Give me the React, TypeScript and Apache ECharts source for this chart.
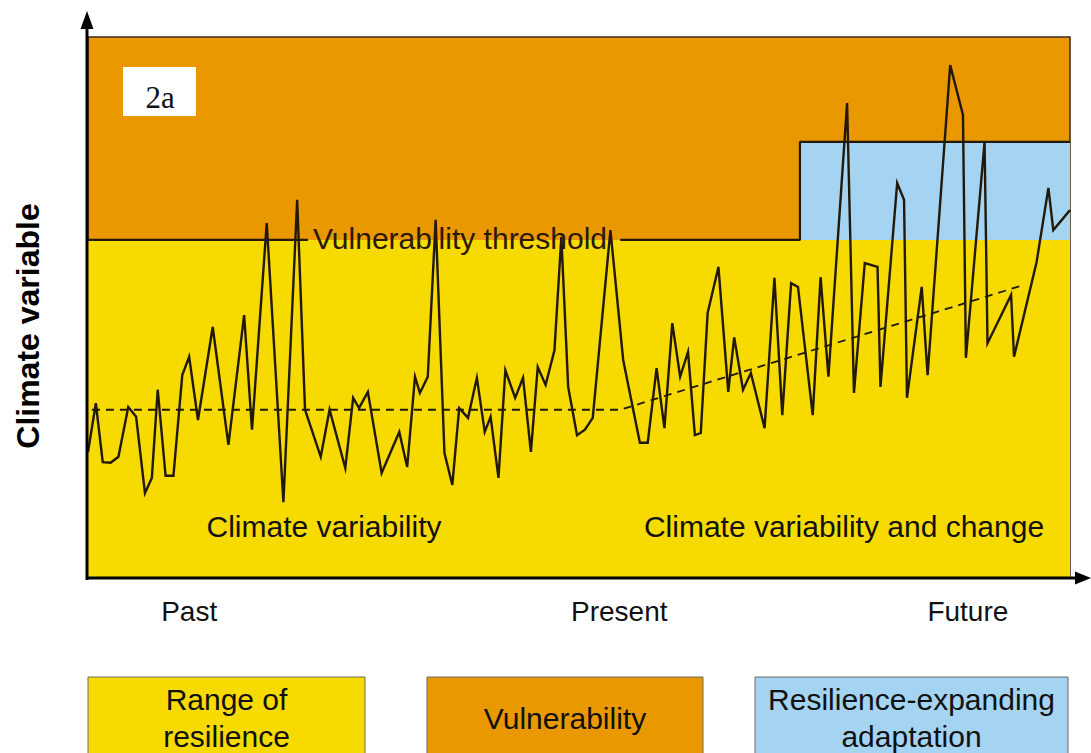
import React, { useEffect, useRef } from "react";
import * as echarts from "echarts";

// Time position (0 = left edge of the plot, 100 = right edge)
const timeX = [
  0, 0.8, 1.5, 2.3, 3.1, 4.1, 4.9, 5.8, 6.5, 7.1, 7.9, 8.7, 9.6, 10.3, 11.2, 12.7, 14.3, 15.9, 16.7, 18.2,
  19.9, 21.3, 22.1, 23.7, 24.6, 26.2, 27.0, 27.6, 28.5, 29.9, 31.7, 32.5, 33.3, 33.8, 34.6, 35.4, 36.3, 37.1, 37.8, 38.7,
  39.6, 40.4, 41.0, 41.8, 42.5, 43.5, 44.3, 45.1, 45.8, 46.6, 47.5, 48.2, 48.9, 49.8, 50.6, 51.4, 53.2, 54.5, 56.2, 57.0,
  57.9, 58.7, 59.5, 60.3, 61.1, 61.8, 62.4, 63.1, 64.2, 65.2, 65.8, 66.7, 67.5, 68.9, 69.9, 70.7, 71.6, 72.3, 73.8, 74.6,
  75.4, 77.3, 78.0, 79.1, 80.4, 80.7, 82.4, 83.1, 83.4, 84.9, 85.5, 87.8, 89.1, 89.4, 91.3, 91.6, 94.0, 94.3, 96.6, 97.8,
  98.3, 100,
];
// Climate variable (0 = x axis, 100 = top of the plot)
const climateY = [
  23.3, 32.3, 21.4, 21.3, 22.4, 31.6, 29.8, 15.7, 18.5, 34.8, 18.9, 18.9, 37.5, 40.9, 29.2, 46.4, 24.6, 48.6, 27.4, 65.6,
  14.0, 69.9, 31.1, 22.4, 31.1, 20.3, 33.3, 31.4, 34.4, 19.4, 27.0, 20.5, 37.2, 34.2, 37.2, 66.2, 23.1, 17.2, 31.4, 29.6,
  37.0, 27.0, 29.8, 18.5, 38.4, 33.3, 37.0, 23.3, 39.0, 35.7, 42.1, 63.0, 35.3, 26.4, 27.4, 29.6, 64.3, 40.3, 25.0, 25.0,
  38.8, 27.7, 47.1, 37.2, 41.8, 26.4, 26.8, 49.0, 57.5, 34.4, 44.5, 34.8, 37.9, 27.7, 55.5, 30.1, 54.5, 53.8, 30.1, 55.6,
  37.2, 87.8, 34.2, 58.2, 57.5, 35.3, 73.0, 69.9, 33.3, 53.8, 37.5, 94.8, 85.6, 40.7, 80.6, 43.4, 52.3, 40.9, 58.4, 72.1,
  64.3, 68.0,
];
// Dashed trend line: flat mean in the past, rising mean afterwards
const trendX = [0.4, 54.2, 95.0];
const trendY = [31.1, 31.1, 54.0];

const vulnerabilityThreshold = 62.5;
const adaptedThreshold = 80.6;
const adaptationStart = 72.5;
const thresholdGapStart = 22.4;
const thresholdGapEnd = 54.2;

const timeLabels = ["Past", "Present", "Future"];
const timeLabelPos = [10.3, 54.1, 89.6];
const legendLabels = ["Range of\nresilience", "Vulnerability", "Resilience-expanding\nadaptation"];

const ORANGE = "#EA9800";
const YELLOW = "#F6DA00";
const BLUE = "#A4D4F2";
const INK = "#22190a";

const GRID = { left: 88, top: 37, right: 21, bottom: 175 };
const W = 1091;
const H = 753;

export default function App() {
  const ref = useRef<HTMLDivElement>(null);
  useEffect(() => {
    if (!ref.current) return;
    const chart = echarts.init(ref.current, undefined, { renderer: "svg" });
    const plotW = W - GRID.left - GRID.right;
    const px = (v: number) => GRID.left + (v / 100) * plotW;
    const font = "'Liberation Sans', Arial, sans-serif";

    const legendBoxes = [
      { x: 88, w: 277, color: YELLOW },
      { x: 427, w: 276, color: ORANGE },
      { x: 755, w: 313, color: BLUE },
    ];

    const graphics: any[] = [
      // y axis
      { type: "line", z: 100, shape: { x1: 87, y1: 580, x2: 87, y2: 26 }, style: { stroke: "#000", lineWidth: 3 } },
      { type: "polygon", z: 100, shape: { points: [[87, 11], [80.5, 29], [93.5, 29]] }, style: { fill: "#000" } },
      // x axis
      { type: "line", z: 100, shape: { x1: 86, y1: 578, x2: 1077, y2: 578 }, style: { stroke: "#000", lineWidth: 3 } },
      { type: "polygon", z: 100, shape: { points: [[1091, 578], [1075, 571.5], [1075, 584.5]] }, style: { fill: "#000" } },
      // y-axis title
      {
        type: "text", z: 100, x: 28, y: 326, rotation: Math.PI / 2,
        style: { text: "Climate variable", font: `bold 32px ${font}`, fill: "#000", align: "center", verticalAlign: "middle" },
      },
      // 2a label box
      { type: "rect", z: 100, shape: { x: 123, y: 67, width: 73, height: 49 }, style: { fill: "#fff" } },
      {
        type: "text", z: 101, x: 160, y: 97,
        style: { text: "2a", font: `31px 'Liberation Serif', 'DejaVu Serif', serif`, fill: "#111", align: "center", verticalAlign: "middle" },
      },
      // threshold label
      {
        type: "text", z: 100, x: 460, y: 238,
        style: { text: "Vulnerability threshold", font: `30px ${font}`, fill: "#2b1808", align: "center", verticalAlign: "middle" },
      },
      {
        type: "text", z: 100, x: 324, y: 526,
        style: { text: "Climate variability", font: `30px ${font}`, fill: "#111", align: "center", verticalAlign: "middle" },
      },
      {
        type: "text", z: 100, x: 844, y: 526,
        style: { text: "Climate variability and change", font: `30px ${font}`, fill: "#111", align: "center", verticalAlign: "middle" },
      },
    ];
    timeLabels.forEach((t, i) => {
      graphics.push({
        type: "text", z: 100, x: px(timeLabelPos[i]), y: 611,
        style: { text: t, font: `28px ${font}`, fill: "#111", align: "center", verticalAlign: "middle" },
      });
    });
    legendBoxes.forEach((b, i) => {
      graphics.push({
        type: "rect", z: 100, shape: { x: b.x, y: 677, width: b.w, height: 90 },
        style: { fill: b.color, stroke: "#6a6a6a", lineWidth: 1 },
      });
      graphics.push({
        type: "text", z: 101, x: b.x + b.w / 2, y: 718,
        style: { text: legendLabels[i], font: `30px ${font}`, fill: "#111", align: "center", verticalAlign: "middle", lineHeight: 37 },
      });
    });

    const series: any[] = [
      {
        type: "line", z: 1, data: [], silent: true,
        markArea: {
          silent: true,
          data: [
            [{ coord: [0, 0], itemStyle: { color: YELLOW } }, { coord: [100, vulnerabilityThreshold] }],
            [{ coord: [adaptationStart, vulnerabilityThreshold], itemStyle: { color: BLUE } }, { coord: [100, adaptedThreshold] }],
          ],
        },
      },
      {
        type: "line", z: 3, symbol: "none", silent: true,
        lineStyle: { color: INK, width: 2.2 },
        data: [[0, vulnerabilityThreshold], [thresholdGapStart, vulnerabilityThreshold]],
      },
      {
        type: "line", z: 3, symbol: "none", silent: true,
        lineStyle: { color: INK, width: 2.2 },
        data: [
          [thresholdGapEnd, vulnerabilityThreshold],
          [adaptationStart, vulnerabilityThreshold],
          [adaptationStart, adaptedThreshold],
          [100, adaptedThreshold],
        ],
      },
      {
        type: "line", z: 4, symbol: "none", silent: true,
        lineStyle: { color: INK, width: 1.8, type: [8, 6] },
        data: trendX.map((x, i) => [x, trendY[i]]),
      },
      {
        type: "line", z: 5, symbol: "none", silent: true,
        lineStyle: { color: INK, width: 2.4, join: "miter", miterLimit: 6 },
        data: timeX.map((x, i) => [x, climateY[i]]),
      },
    ];

    chart.setOption({
      animation: false,
      grid: {
        ...GRID,
        show: true,
        backgroundColor: ORANGE,
        borderColor: "#3a2a14",
        borderWidth: 1.5,
      },
      xAxis: { type: "value", min: 0, max: 100, show: false },
      yAxis: { type: "value", min: 0, max: 100, show: false },
      series,
      graphic: graphics,
    });
    return () => chart.dispose();
  }, []);
  return (
    <div
      ref={ref}
      style={{ position: "fixed", left: 0, top: 0, width: W, height: H, background: "#fff" }}
    />
  );
}
